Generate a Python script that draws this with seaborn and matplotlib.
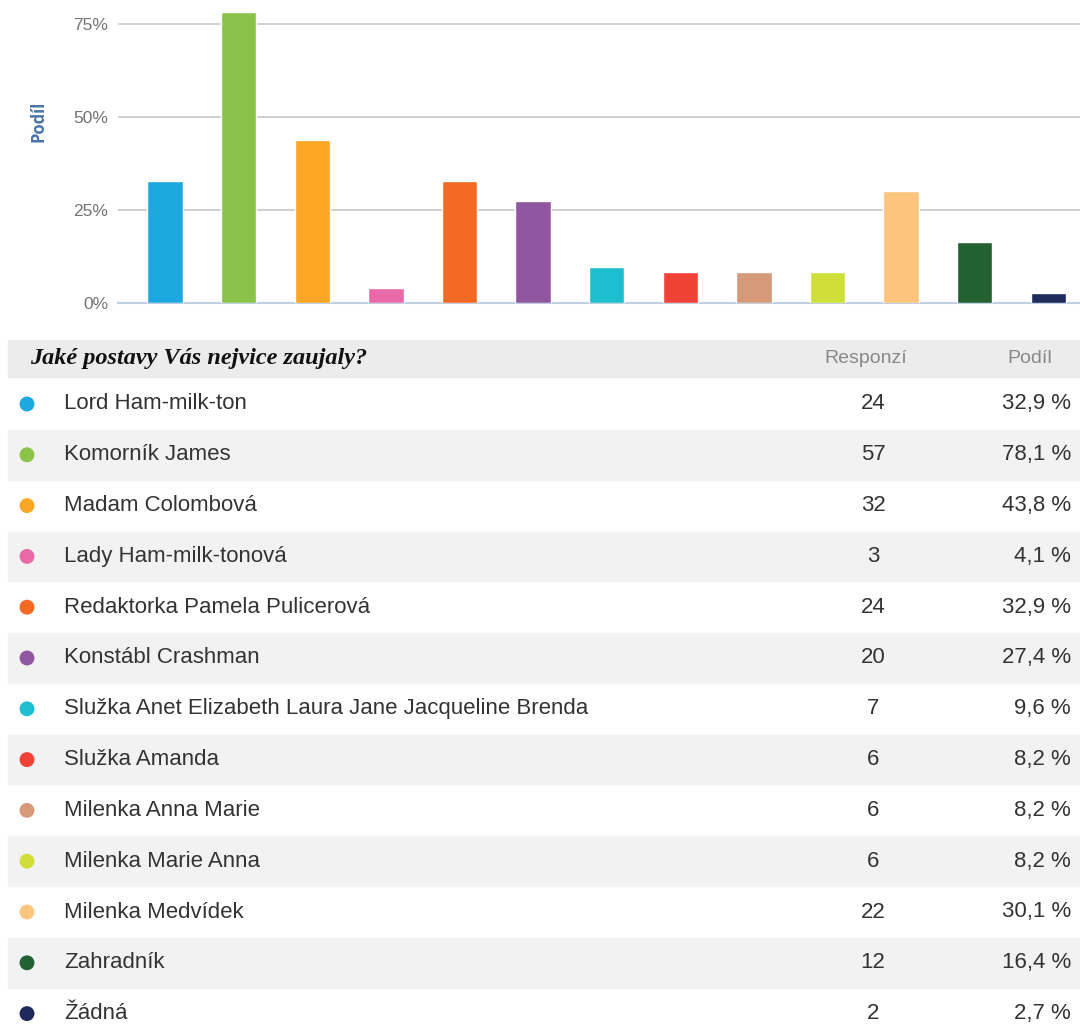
from matplotlib import pyplot as plt
import pandas as pd
import seaborn as sns
import numpy as np

names = [
    "Lord Ham-milk-ton",
    "Komorník James",
    "Madam Colombová",
    "Lady Ham-milk-tonová",
    "Redaktorka Pamela Pulicerová",
    "Konstábl Crashman",
    "Služka Anet Elizabeth Laura Jane Jacqueline Brenda",
    "Služka Amanda",
    "Milenka Anna Marie",
    "Milenka Marie Anna",
    "Milenka Medvídek",
    "Zahradník",
    "Žádná",
]
responses = [24, 57, 32, 3, 24, 20, 7, 6, 6, 6, 22, 12, 2]
shares = [32.9, 78.1, 43.8, 4.1, 32.9, 27.4, 9.6, 8.2, 8.2, 8.2, 30.1, 16.4, 2.7]
colors = [
    "#1ea8e0", "#8bc34a", "#fba725", "#e86ba8", "#f26924", "#9057a0",
    "#1dbfcf", "#ef4136", "#d6997a", "#d0de3a", "#fdc47e", "#236133", "#1f2a5c",
]
y_ticks = [0, 25, 50, 75]

df = pd.DataFrame({"name": names, "count": responses, "share": shares})
df["row"] = np.arange(len(df))
palette = dict(zip(names, colors))

sns.set_theme(style="white")
plt.rcParams["font.family"] = ["Liberation Sans", "DejaVu Sans"]

fig = plt.figure(figsize=(10.8, 10.26), dpi=100)

# --- bar chart ---
ax = fig.add_axes([118 / 1080, 1 - 303 / 1026, 1 - 118 / 1080, 303 / 1026])
sns.barplot(
    data=df, x="name", y="share", hue="name", palette=palette,
    legend=False, width=0.48, saturation=1, ax=ax, zorder=3,
)
ax.set_xlim(-0.64, 12.43)
ax.set_ylim(0, 81.45)
ax.set_yticks(y_ticks)
ax.set_yticklabels([f"{t}%" for t in y_ticks], color="#737373", fontsize=12.5)
ax.set_xticks([])
ax.set_xlabel("")
ax.set_ylabel("Podíl", color="#4a74a8", fontsize=12, fontweight="bold",
              family=["Open Sans", "DejaVu Sans"])
ax.yaxis.set_label_coords(-0.073, 0.60)
ax.tick_params(axis="y", length=0, pad=7)
for t in y_ticks[1:]:
    ax.axhline(t, color="#c8c8c8", lw=1.2, zorder=1)
for s in ["top", "right", "left"]:
    ax.spines[s].set_visible(False)
ax.spines["bottom"].set_color("#c0d0e2")
ax.spines["bottom"].set_linewidth(1.5)

# --- table ---
row_h = 50.8
y0 = 404
tab = fig.add_axes([0, 0, 1, 1 - 330 / 1026])
tab.set_xlim(0, 1080)
tab.set_ylim((1026 - y0) / row_h, (330 - y0) / row_h)
tab.axis("off")

tab.axhspan((340 - y0) / row_h, (377 - y0) / row_h, xmin=8 / 1080, xmax=1,
            color="#ececec", zorder=0)
for i in df["row"]:
    if i % 2 == 1:
        tab.axhspan(i - 0.49, i + 0.49, xmin=8 / 1080, xmax=1,
                    color="#f2f2f2", zorder=0)

hy = (359 - y0) / row_h
tab.text(30, hy, "Jaké postavy Vás nejvice zaujaly?", fontsize=17.5,
         fontstyle="italic", fontweight="bold", family="Liberation Serif",
         color="#111111", va="center", ha="left")
tab.text(866, hy, "Responzí", fontsize=14, color="#888888", va="center", ha="center")
tab.text(1030, hy, "Podíl", fontsize=14, color="#888888", va="center", ha="center")

sns.scatterplot(
    x=np.full(len(df), 27.0), y=df["row"], hue=df["name"], palette=palette,
    s=115, linewidth=0, legend=False, ax=tab, zorder=3,
)
tab.set_xlabel("")
tab.set_ylabel("")

for i, r in df.iterrows():
    tab.text(64, r["row"], r["name"], fontsize=16, color="#333333",
             va="center", ha="left")
    tab.text(873, r["row"], str(r["count"]), fontsize=16, color="#333333",
             va="center", ha="center")
    tab.text(1071, r["row"], f"{r['share']:.1f} %".replace(".", ","),
             fontsize=16, color="#333333", va="center", ha="right")

fig.savefig("out.png", dpi=100)
